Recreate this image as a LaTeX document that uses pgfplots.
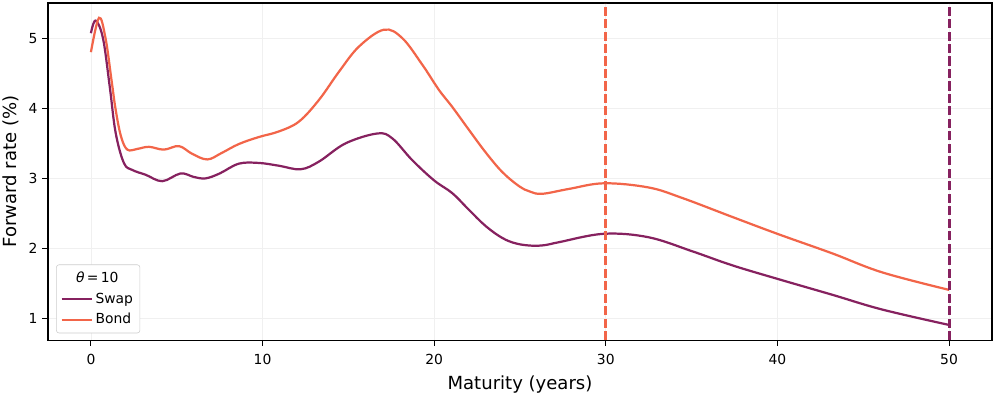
\documentclass[border=0pt]{standalone}
\usepackage{fontspec}
\setmainfont{DejaVu Sans}
\usepackage{pgfplots}
\pgfplotsset{compat=1.18}
\definecolor{swapc}{HTML}{86215F}
\definecolor{bondc}{HTML}{F26549}

\begin{document}
\begin{tikzpicture}
\begin{axis}[scale only axis,width=680pt,height=243pt,
  xmin=-2.5,xmax=52.5,ymin=0.69,ymax=5.5,
  xtick={0,10,...,50},ytick={1,2,3,4,5},
  tick align=outside,tick pos=left,major tick length=4pt,
  axis line style={line width=1pt},tick style={black,line width=0.8pt},
  grid=major,grid style={black!6,line width=0.6pt},
  tick label style={font=\fontsize{10}{12}\selectfont},
  xticklabel style={yshift=-2.5pt},
  label style={font=\fontsize{13}{15}\selectfont},
  /pgf/number format/assume math mode=true,
  xlabel={Maturity (years)},ylabel={Forward rate (\%)},
  xlabel style={yshift=-1pt},
  legend style={font=\fontsize{10}{12}\selectfont,draw=black!20,rounded corners=2pt,
    at={(0.0085,0.021)},anchor=south west,row sep=2pt,inner xsep=3pt,inner ysep=3pt,
    /tikz/every even column/.append style={column sep=3pt}},
  legend image code/.code={\draw[#1] (0cm,0cm) -- (0.76cm,0cm);},
  legend cell align=left]
\coordinate (sw) at (rel axis cs:0,0);
\coordinate (ne) at (rel axis cs:1,1);
\addlegendimage{empty legend}
\addlegendentry{\hspace{-14pt}\itshape θ\upshape\,=\,10}
\addplot[swapc,line width=1.6pt,smooth,tension=0.6] coordinates {
(0,5.07) (0.27,5.25) (0.7,5.0) (1.1,4.3) (1.44,3.65) (1.92,3.22) (2.41,3.12) (3.2,3.05) (4.16,2.96)
(5.22,3.07) (6.0,3.02) (6.68,3.00) (7.5,3.07) (8.62,3.21) (9.79,3.22) (10.96,3.18) (12.22,3.13)
(13.29,3.24) (14.84,3.50) (16.69,3.64) (17.56,3.57) (18.72,3.26) (20.0,2.97) (21.05,2.79)
(22.03,2.55) (23.0,2.32) (23.97,2.15) (24.8,2.07) (25.72,2.04) (26.5,2.05) (27.27,2.09)
(29.9,2.21) (32.5,2.16) (35.04,1.96) (37.37,1.76) (40.1,1.56) (43.2,1.34) (46.1,1.13) (50,0.91)};
\addlegendentry{Swap}
\addplot[bondc,line width=1.6pt,smooth,tension=0.6] coordinates {
(0,4.80) (0.47,5.29) (0.85,5.0) (1.2,4.4) (1.44,3.98) (1.75,3.6) (2.12,3.41) (2.7,3.42) (3.38,3.45)
(4.25,3.41) (5.13,3.46) (5.9,3.35) (6.78,3.27) (7.6,3.36) (8.62,3.49) (9.79,3.59) (10.96,3.67)
(12.12,3.81) (13.29,4.12) (14.45,4.52) (15.62,4.88) (17.07,5.12) (18.14,5.0) (19.31,4.62)
(20.28,4.26) (21.05,4.02) (22.03,3.69) (23.0,3.37) (23.97,3.09) (24.94,2.89) (25.6,2.81)
(26.3,2.78) (27.86,2.85) (29.9,2.93) (32.5,2.87) (34.46,2.72) (37.37,2.45) (40.1,2.20)
(43.2,1.93) (46.1,1.66) (50,1.41)};
\addlegendentry{Bond}
\draw[bondc,line width=2.2pt,dash pattern=on 6.5pt off 2.5pt] (axis cs:30,0.69) -- (axis cs:30,5.5);
\draw[swapc,line width=2.2pt,dash pattern=on 6.5pt off 2.5pt] (axis cs:50,0.69) -- (axis cs:50,5.5);
\end{axis}
\pgfresetboundingbox
\path[use as bounding box] ([xshift=-34.6pt,yshift=-38.9pt]sw) rectangle ([xshift=2.9pt,yshift=2.2pt]ne);
\end{tikzpicture}
\end{document}
